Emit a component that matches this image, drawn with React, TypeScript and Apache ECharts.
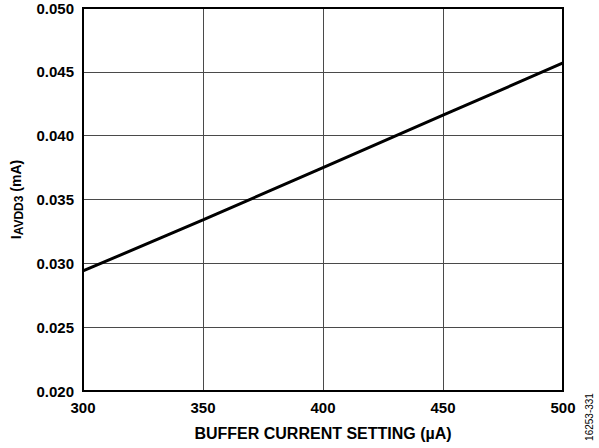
import React, { useEffect, useRef } from "react";
import * as echarts from "echarts";

const xValues = [300, 350, 400, 450, 500];
const yValues = [0.0294, 0.0334, 0.0375, 0.0416, 0.0457];
const yTicks = ["0.020", "0.025", "0.030", "0.035", "0.040", "0.045", "0.050"];

export default function App() {
  const ref = useRef<HTMLDivElement>(null);
  useEffect(() => {
    const chart = echarts.init(ref.current!, null, { renderer: "svg" });
    const font = "'Liberation Sans', Arial, sans-serif";
    chart.setOption({
      animation: false,
      backgroundColor: "#fff",
      grid: { left: 83, right: 36, top: 8, bottom: 57 },
      xAxis: {
        type: "value",
        min: 300,
        max: 500,
        interval: 50,
        name: "BUFFER CURRENT SETTING (µA)",
        nameLocation: "middle",
        nameGap: 34,
        nameTextStyle: { fontFamily: font, fontWeight: "bold", fontSize: 16, color: "#000" },
        axisLine: { show: false },
        axisTick: { show: false },
        axisLabel: { fontFamily: font, fontWeight: "bold", fontSize: 15, color: "#000", margin: 9 },
        splitLine: { show: true, lineStyle: { color: "#4a4a4a", width: 1 } },
      },
      yAxis: {
        type: "value",
        min: 0.02,
        max: 0.05,
        interval: 0.005,
        name: "{i|I}{sub|AVDD3}{i| (mA)}",
        nameLocation: "middle",
        nameGap: 58,
        nameTextStyle: {
          rich: {
            i: { fontFamily: font, fontWeight: "bold", fontSize: 14, color: "#000" },
            sub: { fontFamily: font, fontWeight: "bold", fontSize: 12, color: "#000", verticalAlign: "bottom", padding: [7, 0, 0, 0] },
          },
        },
        axisLine: { show: false },
        axisTick: { show: false },
        axisLabel: {
          fontFamily: font, fontWeight: "bold", fontSize: 15, color: "#000", margin: 9,
          formatter: (v: number) => yTicks[Math.round((v - 0.02) / 0.005)] ?? "",
        },
        splitLine: { show: true, lineStyle: { color: "#4a4a4a", width: 1 } },
      },
      graphic: [
        {
          type: "rect",
          shape: { x: 83, y: 8, width: 480, height: 383 },
          style: { fill: "none", stroke: "#000", lineWidth: 2 },
          z: 10,
        },
        {
          type: "text",
          x: 589,
          y: 417,
          rotation: Math.PI / 2,
          style: { text: "16253-331", fontFamily: font, fontSize: 10, fill: "#000", align: "center", verticalAlign: "middle" },
        },
      ],
      series: [
        {
          type: "line",
          data: xValues.map((x, i) => [x, yValues[i]]),
          showSymbol: false,
          lineStyle: { color: "#000", width: 3 },
          z: 5,
        },
      ],
    });
    return () => chart.dispose();
  }, []);
  return <div ref={ref} style={{ position: "fixed", left: 0, top: 0, width: 599, height: 448 }} />;
}
